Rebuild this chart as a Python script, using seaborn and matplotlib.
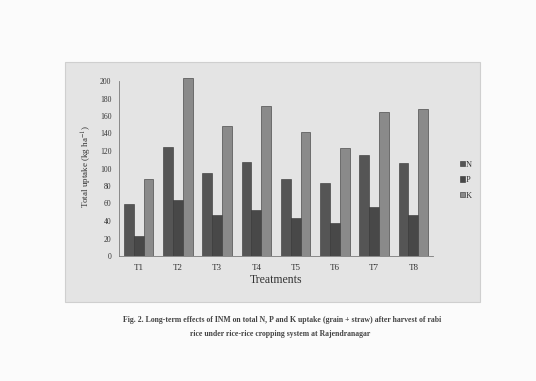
"""
Total N, P, K uptake by treatment - scanned figure recreation
"""
import numpy as np
import pandas as pd
import matplotlib
matplotlib.use('Agg')
import matplotlib.pyplot as plt
import seaborn as sns
from matplotlib.patches import Rectangle

treatments = ['T1', 'T2', 'T3', 'T4', 'T5', 'T6', 'T7', 'T8']
n_uptake = [59, 125, 95, 107, 88, 84, 116, 106]
p_uptake = [23, 64, 47, 53, 43, 38, 56, 47]
k_uptake = [88, 203, 149, 171, 142, 123, 165, 168]
nutrients = ['N', 'P', 'K']
colors = ['#555555', '#484848', '#8a8a8a']

sns.set_theme(style='white')
plt.rcParams['font.family'] = ['Liberation Serif', 'DejaVu Serif']
plt.rcParams['mathtext.fontset'] = 'stix'

# long format table for seaborn
df = pd.DataFrame({
    'Treatments': treatments * 3,
    'uptake': n_uptake + p_uptake + k_uptake,
    'nutrient': [n for n in nutrients for _ in treatments],
})

fig = plt.figure(figsize=(5.36, 3.81), dpi=100)
fig.patch.set_facecolor('#fbfbfb')

# grey panel behind the chart (scanned look)
panel = Rectangle((65 / 536, 1 - 302 / 381), 415 / 536, 240 / 381,
                  transform=fig.transFigure, facecolor='#e4e4e4',
                  edgecolor='#cfcfcf', linewidth=0.8, zorder=-10)
fig.patches.append(panel)

# y range a little above 200 so the tallest bar is not cut
ymax = 205
ax = fig.add_axes([119 / 536, 1 - 256 / 381, 314 / 536, 175 * ymax / 200 / 381])
ax.set_zorder(2)
ax.set_facecolor('#e4e4e4')

sns.barplot(data=df, x='Treatments', y='uptake', hue='nutrient',
            palette=colors, width=0.75, edgecolor='#333333', linewidth=0.4,
            ax=ax, legend=True)

ax.set_ylim(0, ymax)
ax.set_yticks(np.arange(0, 201, 20))
ax.tick_params(axis='both', labelsize=5.5, colors='#333333', length=2)
ax.tick_params(axis='x', labelsize=6.5)
for s in ['top', 'right']:
    ax.spines[s].set_visible(False)
for s in ['left', 'bottom']:
    ax.spines[s].set_color('#7a7a7a')
    ax.spines[s].set_linewidth(0.6)
ax.spines['left'].set_bounds(0, 200)

ax.set_xlabel('Treatments', fontsize=8.5, color='#333333', labelpad=2)
ax.set_ylabel('Total uptake (kg ha$^{-1}$)', fontsize=6.5, color='#333333', labelpad=4)

handles, labels = ax.get_legend_handles_labels()
ax.get_legend().remove()
fig.legend(handles, labels, loc='center left', bbox_to_anchor=(452 / 536, 1 - 180 / 381),
           frameon=False, fontsize=6, handlelength=0.6, handleheight=0.6,
           handletextpad=0.2, labelspacing=0.9, labelcolor='#333333')

fig.text(0.527, 1 - 320 / 381,
         'Fig. 2. Long-term effects of INM on total N, P and K uptake (grain + straw) after harvest of rabi',
         ha='center', va='center', fontsize=5.6, fontweight='bold', color='#444444')
fig.text(0.523, 1 - 334 / 381,
         'rice under rice-rice cropping system at Rajendranagar',
         ha='center', va='center', fontsize=5.6, fontweight='bold', color='#444444')

plt.savefig('out.png', dpi=100, facecolor=fig.get_facecolor())
